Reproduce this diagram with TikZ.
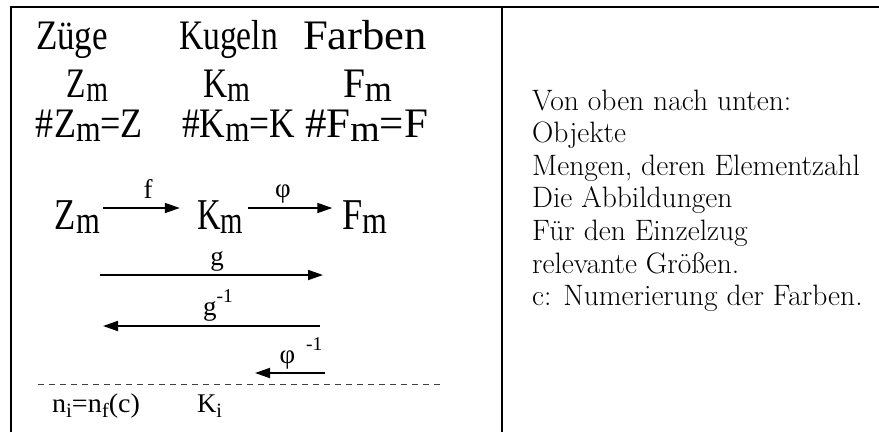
\documentclass[tikz,border=0pt]{standalone}
\usepackage{fontspec}
\newfontfamily\tnr{Liberation Serif}
\usetikzlibrary{arrows.meta}
\newcommand\lowsub[1]{\raisebox{-0.11em}{\scalebox{0.88}{#1}}}
\newcommand\botsub[1]{\raisebox{-0.2em}{\scalebox{0.75}{#1}}}
\newcommand\highsup[1]{\raisebox{0.45em}{\scalebox{0.72}{#1}}}
\newcommand\fitw[2]{\resizebox{#1pt}{\height}{#2}}
\begin{document}
\begin{tikzpicture}[x=1pt,y=-1pt,
  big/.style={font=\tnr\fontsize{42}{46}\selectfont, inner sep=0pt, anchor=base},
  bigger/.style={font=\tnr\fontsize{44}{48}\selectfont, inner sep=0pt, anchor=base},
  lbl/.style={font=\tnr\fontsize{27}{30}\selectfont, inner sep=0pt, anchor=base},
  bot/.style={font=\tnr\fontsize{27}{30}\selectfont, inner sep=0pt, anchor=base},
  rtxt/.style={font=\fontsize{29.5}{32}\selectfont, inner sep=0pt, anchor=base west},
  arr/.style={-{Triangle[length=15pt,width=10pt]}, line width=1.8pt},
  frame/.style={line width=1.9pt},
  dashline/.style={line width=0.9pt, dash pattern=on 6pt off 5pt, black!75}]
\useasboundingbox (0,0) rectangle (879,432);
% frame
\coordinate (tl) at (11,7);
\coordinate (tr) at (879,7);
\coordinate (bl) at (11,432);
\coordinate (mt) at (502,7);
\coordinate (mb) at (502,432);
\draw[frame] (bl) -- (tl) -- (tr);
\draw[frame] (mt) -- (mb);
% row 1
\node[big] (zuege) at (72,49) {\fitw{72}{Züge}};
\node[big] (kugeln) at (228.5,49) {\fitw{99}{Kugeln}};
\node[big] (farben) at (365,49) {\fitw{124}{Farben}};
% row 2
\node[big] (zm) at (87.5,97) {\fitw{41}{Z\lowsub{m}}};
\node[big] (km) at (226.5,97) {\fitw{47}{K\lowsub{m}}};
\node[big] (fm) at (367.5,97) {\fitw{49}{F\lowsub{m}}};
% row 3
\node[big] (nz) at (89.5,137) {\fitw{107}{\#Z\lowsub{m}=Z}};
\node[big] (nk) at (238.5,137) {\fitw{113}{\#K\lowsub{m}=K}};
\node[big] (nf) at (366.5,137) {\fitw{123}{\#F\lowsub{m}=F}};
% row 4
\node[bigger] (zr) at (77.5,229) {\fitw{45}{Z\lowsub{m}}};
\node[bigger] (kr) at (220,229) {\fitw{46}{K\lowsub{m}}};
\node[bigger] (fr) at (365,229) {\fitw{45}{F\lowsub{m}}};
\draw[arr] ([xshift=3pt,yshift=21pt]zr.base east) -- ([xshift=-17pt,yshift=21pt]kr.base west);
\draw[arr] ([xshift=5pt,yshift=21pt]kr.base east) -- ([xshift=-10pt,yshift=21pt]fr.base west);
\node[lbl] (lf) at (148,198) {f};
\node[lbl] (lphi) at (283,197) {φ};
% g arrows
\coordinate (g1) at (100,275);
\coordinate (g2) at (323,275);
\draw[arr] (g1) -- (g2);
\node[lbl] (lg) at (217,265) {g};
\coordinate (gi1) at (320,326);
\coordinate (gi2) at (103,326);
\draw[arr] (gi1) -- (gi2);
\node[lbl] (lgi) at (218,315) {g\highsup{-1}};
\coordinate (p1) at (325,373);
\coordinate (p2) at (255,373);
\draw[arr] (p1) -- (p2);
\node[lbl] (lpi) at (301,363) {φ\hspace{0.4em}\highsup{-1}};
% dashed line
\coordinate (d1) at (38,384);
\coordinate (d2) at (440,384);
\draw[dashline] (d1) -- (d2);
\node[bot] (nif) at (96,412) {\fitw{88}{n\botsub{i}=n\botsub{f}(c)}};
\node[bot] (ki) at (209.5,412) {\fitw{25}{K\botsub{i}}};
% right text
\node[rtxt] (r1) at (532,110) {Von oben nach unten:};
\node[rtxt] (r2) at (532,142.6) {Objekte};
\node[rtxt] (r3) at (532,175.2) {Mengen, deren Elementzahl};
\node[rtxt] (r4) at (532,207.8) {Die Abbildungen};
\node[rtxt] (r5) at (532,240.4) {Für den Einzelzug};
\node[rtxt] (r6) at (532,273) {relevante Größen.};
\node[rtxt] (r7) at (532,305.6) {c: Numerierung der Farben.};
\end{tikzpicture}
\end{document}
